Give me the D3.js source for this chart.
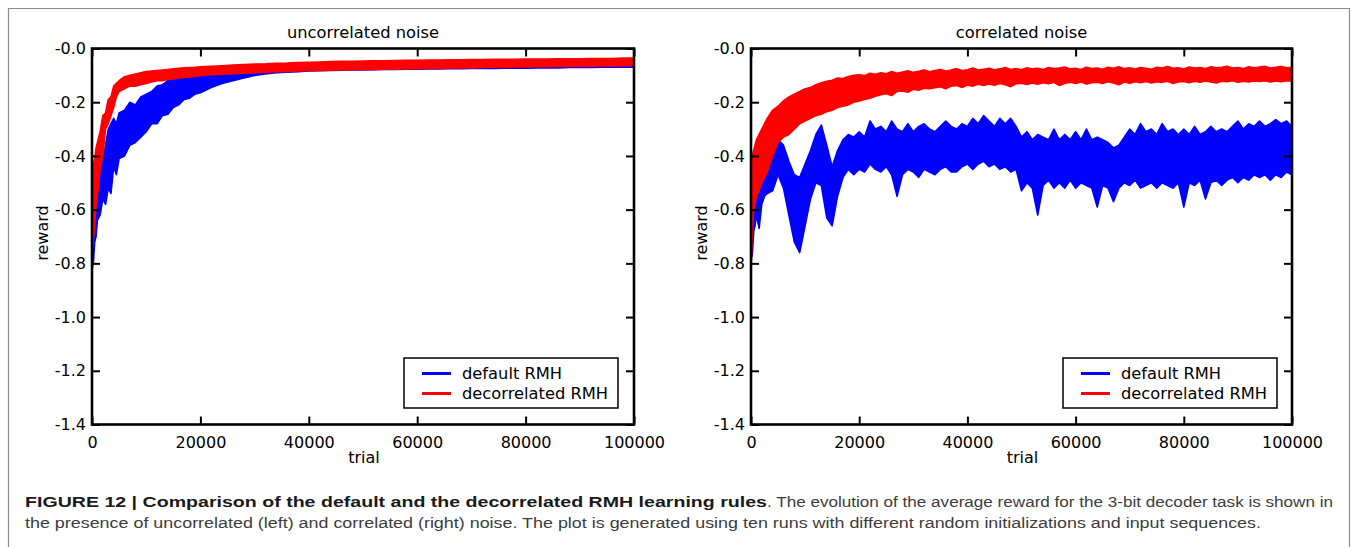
<!DOCTYPE html>
<html><head><meta charset="utf-8">
<script src="https://cdn.jsdelivr.net/npm/d3@7"></script>
<style>
html,body{margin:0;padding:0;background:#fff;}
svg{display:block;}
</style></head>
<body>
<svg id="chart" width="1356" height="547"></svg>
<script>
// ---------- tick labels ----------
const xTicks = [0, 20000, 40000, 60000, 80000, 100000];
const xTickLabels = ["0", "20000", "40000", "60000", "80000", "100000"];
const yTicks = [-1.4, -1.2, -1.0, -0.8, -0.6, -0.4, -0.2, 0];
const yTickLabels = ["-1.4", "-1.2", "-1.0", "-0.8", "-0.6", "-0.4", "-0.2", "-0.0"];
const seriesNames = ["default RMH", "decorrelated RMH"];
const panelTitles = ["uncorrelated noise", "correlated noise"];

// ---------- left panel: uncorrelated noise (band edges) ----------
const trialsL = [0,250,500,750,1000,1500,2000,2500,3000,3500,4000,4500,5000,
  6000,7000,8000,9000,10000,11000,12000,13000,14000,15000,16000,17000,18000,19000,20000,
  22000,24000,26000,28000,30000,32000,34000,36000,38000,40000,42000,44000,46000,48000,50000,
  52000,54000,56000,58000,60000,62000,64000,66000,68000,70000,72000,74000,76000,78000,80000,
  82000,84000,86000,88000,90000,92000,94000,96000,98000,100000];
const defaultHighL = [-0.62,-0.60,-0.57,-0.55,-0.50,-0.47,-0.42,-0.36,-0.30,-0.28,-0.26,-0.28,-0.24,
  -0.23,-0.20,-0.21,-0.18,-0.17,-0.16,-0.14,-0.135,-0.12,-0.115,-0.112,-0.105,-0.10,-0.097,-0.094,
  -0.090,-0.085,-0.080,-0.076,-0.073,-0.070,-0.068,-0.066,-0.064,-0.062,-0.061,-0.060,-0.059,-0.058,-0.057,
  -0.056,-0.056,-0.055,-0.054,-0.054,-0.053,-0.053,-0.052,-0.052,-0.051,-0.051,-0.050,-0.050,-0.050,-0.049,
  -0.049,-0.049,-0.048,-0.048,-0.048,-0.047,-0.047,-0.047,-0.047,-0.046];
const defaultLowL = [-0.82,-0.80,-0.72,-0.70,-0.64,-0.62,-0.56,-0.58,-0.52,-0.54,-0.44,-0.47,-0.41,
  -0.40,-0.36,-0.35,-0.33,-0.31,-0.28,-0.28,-0.25,-0.245,-0.22,-0.21,-0.19,-0.185,-0.17,-0.165,
  -0.145,-0.13,-0.12,-0.11,-0.10,-0.095,-0.09,-0.088,-0.086,-0.084,-0.083,-0.082,-0.081,-0.080,-0.080,
  -0.079,-0.078,-0.078,-0.077,-0.077,-0.076,-0.076,-0.075,-0.075,-0.074,-0.074,-0.074,-0.073,-0.073,-0.073,
  -0.072,-0.072,-0.072,-0.071,-0.071,-0.071,-0.070,-0.070,-0.070,-0.070];
const decorrHighL = [-0.50,-0.43,-0.41,-0.37,-0.35,-0.31,-0.25,-0.24,-0.19,-0.18,-0.14,-0.13,-0.12,
  -0.105,-0.10,-0.095,-0.09,-0.086,-0.084,-0.082,-0.080,-0.078,-0.076,-0.074,-0.072,-0.071,-0.070,-0.068,
  -0.066,-0.064,-0.062,-0.060,-0.058,-0.057,-0.055,-0.054,-0.052,-0.051,-0.050,-0.049,-0.048,-0.048,-0.047,
  -0.046,-0.046,-0.045,-0.044,-0.044,-0.043,-0.043,-0.042,-0.042,-0.041,-0.041,-0.040,-0.040,-0.040,-0.039,
  -0.039,-0.039,-0.038,-0.038,-0.038,-0.037,-0.037,-0.037,-0.036,-0.036];
const decorrLowL = [-0.76,-0.71,-0.66,-0.58,-0.55,-0.45,-0.40,-0.30,-0.28,-0.25,-0.22,-0.18,-0.16,
  -0.15,-0.14,-0.14,-0.135,-0.13,-0.125,-0.12,-0.12,-0.115,-0.113,-0.11,-0.108,-0.106,-0.104,-0.10,
  -0.098,-0.096,-0.094,-0.092,-0.090,-0.088,-0.086,-0.085,-0.084,-0.083,-0.082,-0.081,-0.080,-0.079,-0.078,
  -0.078,-0.077,-0.076,-0.076,-0.075,-0.074,-0.074,-0.073,-0.072,-0.072,-0.071,-0.070,-0.070,-0.069,-0.069,
  -0.068,-0.068,-0.067,-0.067,-0.066,-0.066,-0.065,-0.065,-0.064,-0.064];

// ---------- right panel: correlated noise ----------
const trialsR = [0,250,500,750,1000,1500,2000,2500,3000,
  4000,5000,6000,7000,8000,9000,10000,11000,12000,13000,
  14000,15000,16000,17000,18000,19000,20000,21000,22000,23000,
  24000,25000,26000,27000,28000,29000,30000,31000,32000,33000,
  34000,35000,36000,37000,38000,39000,40000,41000,42000,43000,
  44000,45000,46000,47000,48000,49000,50000,51000,52000,53000,
  54000,55000,56000,57000,58000,59000,60000,61000,62000,63000,
  64000,65000,66000,67000,68000,69000,70000,71000,72000,73000,
  74000,75000,76000,77000,78000,79000,80000,81000,82000,83000,
  84000,85000,86000,87000,88000,89000,90000,91000,92000,93000,
  94000,95000,96000,97000,98000,99000,100000];
const defaultHighR = [-0.60,-0.45,-0.38,-0.40,-0.42,-0.45,-0.49,-0.46,-0.42,
  -0.38,-0.34,-0.36,-0.42,-0.47,-0.48,-0.43,-0.38,-0.32,-0.285,
  -0.36,-0.44,-0.38,-0.34,-0.32,-0.33,-0.31,-0.33,-0.27,-0.30,
  -0.29,-0.31,-0.27,-0.30,-0.31,-0.28,-0.31,-0.29,-0.28,-0.30,
  -0.31,-0.29,-0.27,-0.29,-0.30,-0.28,-0.29,-0.26,-0.28,-0.25,
  -0.27,-0.29,-0.26,-0.28,-0.26,-0.29,-0.33,-0.31,-0.34,-0.32,
  -0.33,-0.34,-0.30,-0.34,-0.32,-0.34,-0.31,-0.34,-0.30,-0.34,
  -0.33,-0.34,-0.35,-0.37,-0.36,-0.33,-0.30,-0.32,-0.28,-0.31,
  -0.30,-0.32,-0.28,-0.31,-0.30,-0.32,-0.30,-0.32,-0.29,-0.32,
  -0.31,-0.29,-0.31,-0.30,-0.31,-0.29,-0.27,-0.30,-0.28,-0.29,
  -0.27,-0.29,-0.28,-0.265,-0.28,-0.27,-0.29];
const defaultLowR = [-0.78,-0.77,-0.68,-0.66,-0.62,-0.67,-0.58,-0.55,-0.54,
  -0.53,-0.47,-0.52,-0.62,-0.72,-0.76,-0.66,-0.56,-0.50,-0.51,
  -0.63,-0.66,-0.55,-0.48,-0.45,-0.47,-0.45,-0.46,-0.43,-0.45,
  -0.46,-0.44,-0.47,-0.55,-0.47,-0.45,-0.46,-0.48,-0.45,-0.46,
  -0.47,-0.45,-0.44,-0.46,-0.46,-0.44,-0.43,-0.45,-0.43,-0.42,
  -0.44,-0.43,-0.45,-0.44,-0.46,-0.45,-0.53,-0.50,-0.52,-0.62,
  -0.51,-0.49,-0.52,-0.50,-0.52,-0.49,-0.52,-0.50,-0.51,-0.52,
  -0.59,-0.51,-0.52,-0.57,-0.52,-0.50,-0.51,-0.49,-0.52,-0.51,
  -0.50,-0.52,-0.50,-0.51,-0.52,-0.50,-0.59,-0.50,-0.51,-0.49,
  -0.56,-0.50,-0.49,-0.51,-0.49,-0.48,-0.50,-0.48,-0.49,-0.47,
  -0.48,-0.47,-0.49,-0.47,-0.48,-0.46,-0.47];
const decorrHighR = [-0.45,-0.40,-0.38,-0.36,-0.34,-0.32,-0.30,-0.28,-0.26,
  -0.23,-0.215,-0.195,-0.18,-0.17,-0.16,-0.15,-0.145,-0.135,-0.128,
  -0.122,-0.118,-0.11,-0.112,-0.104,-0.10,-0.098,-0.101,-0.092,-0.096,
  -0.09,-0.094,-0.086,-0.092,-0.088,-0.083,-0.089,-0.085,-0.08,-0.087,
  -0.082,-0.078,-0.084,-0.08,-0.075,-0.082,-0.079,-0.073,-0.08,-0.077,
  -0.074,-0.079,-0.076,-0.071,-0.078,-0.075,-0.079,-0.072,-0.076,-0.074,
  -0.078,-0.071,-0.075,-0.073,-0.069,-0.076,-0.074,-0.078,-0.07,-0.075,
  -0.073,-0.077,-0.07,-0.074,-0.068,-0.075,-0.072,-0.076,-0.071,-0.074,
  -0.077,-0.07,-0.073,-0.067,-0.074,-0.072,-0.076,-0.069,-0.073,-0.071,
  -0.075,-0.068,-0.072,-0.07,-0.066,-0.073,-0.071,-0.075,-0.068,-0.072,
  -0.069,-0.066,-0.073,-0.07,-0.067,-0.072,-0.07];
const decorrLowR = [-0.84,-0.68,-0.60,-0.58,-0.55,-0.53,-0.50,-0.48,-0.46,
  -0.40,-0.35,-0.33,-0.32,-0.30,-0.28,-0.27,-0.26,-0.25,-0.245,
  -0.235,-0.23,-0.22,-0.215,-0.21,-0.20,-0.195,-0.19,-0.185,-0.178,
  -0.172,-0.168,-0.175,-0.16,-0.158,-0.163,-0.152,-0.155,-0.148,-0.15,
  -0.146,-0.142,-0.15,-0.14,-0.138,-0.145,-0.136,-0.14,-0.133,-0.138,
  -0.132,-0.137,-0.13,-0.135,-0.142,-0.131,-0.129,-0.134,-0.128,-0.133,
  -0.127,-0.131,-0.126,-0.138,-0.129,-0.126,-0.13,-0.125,-0.132,-0.127,
  -0.126,-0.13,-0.124,-0.128,-0.135,-0.125,-0.129,-0.124,-0.127,-0.123,
  -0.128,-0.124,-0.126,-0.122,-0.13,-0.125,-0.123,-0.127,-0.122,-0.126,
  -0.121,-0.125,-0.128,-0.122,-0.124,-0.12,-0.126,-0.122,-0.125,-0.121,
  -0.123,-0.12,-0.125,-0.121,-0.124,-0.12,-0.122];

const captionBold = "FIGURE 12 | Comparison of the default and the decorrelated RMH learning rules";
const captionRest1 = ". The evolution of the average reward for the 3-bit decoder task is shown in";
const captionLine2 = "the presence of uncorrelated (left) and correlated (right) noise. The plot is generated using ten runs with different random initializations and input sequences.";

// ---------- drawing ----------
const svg = d3.select("#chart");
svg.append("rect").attr("width", 1356).attr("height", 547).attr("fill", "#fff");
svg.append("path").attr("d", "M8.5,560V8.5H1349.5V560")
  .attr("fill", "none").attr("stroke", "#8c8c8c").attr("stroke-width", 1.2);

const COLORS = ["#0000ff", "#ff0000"];
const FONT = "'DejaVu Sans', sans-serif";

function panel(idx, x0, x1, trials, bands, legendX) {
  const y0 = 48.5, y1 = 424.5;
  const x = d3.scaleLinear().domain([0, 100000]).range([x0, x1]);
  const y = d3.scaleLinear().domain([-1.4, 0]).range([y1, y0]);
  const g = svg.append("g");
  const clipId = "clip" + idx;
  g.append("clipPath").attr("id", clipId).append("rect")
    .attr("x", x0).attr("y", y0).attr("width", x1 - x0).attr("height", y1 - y0);

  const area = d3.area()
    .x((d, i) => x(trials[i]))
    .y0(d => y(d[0]))
    .y1(d => y(d[1]));
  const plot = g.append("g").attr("clip-path", `url(#${clipId})`);
  bands.forEach((b, k) => {
    const pts = b.low.map((v, i) => [v, b.high[i]]);
    plot.append("path").datum(pts).attr("d", area)
      .attr("fill", COLORS[k]).attr("stroke", COLORS[k])
      .attr("stroke-width", 1.6).attr("stroke-linejoin", "round");
  });

  // axes
  const styleAxis = sel => {
    sel.select(".domain").remove();
    sel.selectAll(".tick line").attr("stroke", "#000").attr("stroke-width", 2);
    sel.selectAll(".tick text").attr("font-family", FONT).attr("font-size", 16).attr("fill", "#000");
  };
  g.append("g").attr("transform", `translate(0,${y1})`)
    .call(d3.axisBottom(x).tickValues(xTicks).tickFormat((d, i) => xTickLabels[i]).tickSize(-8).tickPadding(12))
    .call(styleAxis);
  g.append("g").attr("transform", `translate(0,${y0})`)
    .call(d3.axisTop(x).tickValues(xTicks).tickFormat("").tickSize(-8))
    .call(styleAxis);
  g.append("g").attr("transform", `translate(${x0},0)`)
    .call(d3.axisLeft(y).tickValues(yTicks).tickFormat((d, i) => yTickLabels[i]).tickSize(-8).tickPadding(6))
    .call(styleAxis);
  g.append("g").attr("transform", `translate(${x1},0)`)
    .call(d3.axisRight(y).tickValues(yTicks).tickFormat("").tickSize(-8))
    .call(styleAxis);

  g.append("rect").attr("x", x0).attr("y", y0).attr("width", x1 - x0).attr("height", y1 - y0)
    .attr("fill", "none").attr("stroke", "#000").attr("stroke-width", 2.6);

  // titles / labels
  const cx = (x0 + x1) / 2;
  g.append("text").attr("x", cx).attr("y", 38).attr("text-anchor", "middle")
    .attr("font-family", FONT).attr("font-size", 16.3).text(panelTitles[idx]);
  g.append("text").attr("x", cx + 1).attr("y", 463).attr("text-anchor", "middle")
    .attr("font-family", FONT).attr("font-size", 16).text("trial");
  g.append("text").attr("transform", `translate(${x0 - 44},233) rotate(-90)`).attr("text-anchor", "middle")
    .attr("font-family", FONT).attr("font-size", 16).text("reward");

  // legend
  const lg = g.append("g").attr("transform", `translate(${legendX},358)`);
  lg.append("rect").attr("x", 0).attr("y", 0).attr("width", 214).attr("height", 50)
    .attr("fill", "#fff").attr("stroke", "#000").attr("stroke-width", 1.5);
  seriesNames.forEach((name, k) => {
    const ly = 15.5 + k * 20;
    lg.append("line").attr("x1", 18).attr("x2", 47).attr("y1", ly).attr("y2", ly)
      .attr("stroke", COLORS[k]).attr("stroke-width", 3);
    lg.append("text").attr("x", 58).attr("y", ly + 5.8)
      .attr("font-family", FONT).attr("font-size", 16.3).text(name);
  });
}

panel(0, 92, 634, trialsL, [
  {low: defaultLowL, high: defaultHighL},
  {low: decorrLowL, high: decorrHighL}
], 404);
panel(1, 751, 1292, trialsR, [
  {low: defaultLowR, high: defaultHighR},
  {low: decorrLowR, high: decorrHighR}
], 1063);

// caption
const CAP = "'Liberation Sans', Arial, Helvetica, sans-serif";
svg.append("text").attr("x", 25).attr("y", 507)
  .attr("font-family", CAP).attr("font-size", 15.5).attr("font-weight", "bold").attr("fill", "#1a1a1a")
  .attr("textLength", 742).attr("lengthAdjust", "spacingAndGlyphs")
  .text(captionBold);
svg.append("text").attr("x", 767).attr("y", 507)
  .attr("font-family", CAP).attr("font-size", 15.5).attr("fill", "#3c3c3c")
  .attr("textLength", 566).attr("lengthAdjust", "spacingAndGlyphs")
  .text(captionRest1);
svg.append("text").attr("x", 25).attr("y", 528)
  .attr("font-family", CAP).attr("font-size", 15.5).attr("fill", "#3c3c3c")
  .attr("textLength", 1236).attr("lengthAdjust", "spacingAndGlyphs")
  .text(captionLine2);
</script>
</body></html>
